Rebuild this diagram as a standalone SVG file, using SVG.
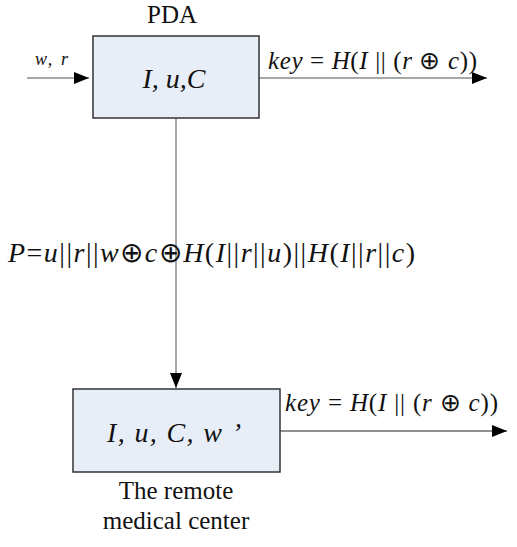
<svg xmlns="http://www.w3.org/2000/svg" width="517" height="547" viewBox="0 0 517 547">
<style>
.box{fill:#e8eef8;stroke:#333;stroke-width:1.5}
.ln{fill:none;stroke:#8a8a8a;stroke-width:1.5}
.dk{fill:none;stroke:#222;stroke-width:1.2}
.t{font-family:'Liberation Serif','Times New Roman',Times,serif;fill:#111}
.i{font-style:italic}
</style>
<defs>
<marker id="ah" markerUnits="userSpaceOnUse" markerWidth="16" markerHeight="12" refX="15" refY="6" orient="auto">
<path d="M0,0 L15,6 L0,12 Z" fill="#000"/>
</marker>
</defs>
<g id="connectors">
<line class="ln" x1="27" y1="78" x2="89" y2="78" marker-end="url(#ah)"/>
<line class="ln" x1="259" y1="78" x2="487" y2="78" marker-end="url(#ah)"/>
<line class="ln" x1="176" y1="118" x2="176" y2="388" marker-end="url(#ah)"/>
<line class="dk" x1="280" y1="431" x2="507" y2="431" marker-end="url(#ah)"/>
<text class="t i" x="35" y="65" font-size="18" textLength="33" lengthAdjust="spacing">w, r</text>
<text class="t" x="268" y="69" font-size="25" textLength="209" lengthAdjust="spacing"><tspan class="i">key</tspan> = <tspan class="i">H</tspan>(<tspan class="i">I</tspan> || (<tspan class="i">r</tspan> ⊕ <tspan class="i">c</tspan>))</text>
<text class="t" x="8" y="262" font-size="28" textLength="407" lengthAdjust="spacing"><tspan class="i">P</tspan>=<tspan class="i">u</tspan>||<tspan class="i">r</tspan>||<tspan class="i">w</tspan>⊕<tspan class="i">c</tspan>⊕<tspan class="i">H</tspan>(<tspan class="i">I</tspan>||<tspan class="i">r</tspan>||<tspan class="i">u</tspan>)||<tspan class="i">H</tspan>(<tspan class="i">I</tspan>||<tspan class="i">r</tspan>||<tspan class="i">c</tspan>)</text>
<text class="t" x="285" y="411" font-size="25" textLength="213" lengthAdjust="spacing"><tspan class="i">key</tspan> = <tspan class="i">H</tspan>(<tspan class="i">I</tspan> || (<tspan class="i">r</tspan> ⊕ <tspan class="i">c</tspan>))</text>
</g>
<g id="pda">
<text class="t" x="172" y="23" font-size="25" text-anchor="middle">PDA</text>
<rect class="box" x="93" y="36" width="166" height="82"/>
<text class="t i" x="174" y="88" font-size="28" text-anchor="middle">I, u,C</text>
</g>
<g id="center">
<rect class="box" x="73" y="389" width="207" height="83"/>
<text class="t i" x="107" y="442" font-size="28" textLength="134" lengthAdjust="spacing">I, u, C, w ’</text>
<text class="t" x="176" y="499" font-size="25" text-anchor="middle">The remote</text>
<text class="t" x="176" y="529" font-size="25" text-anchor="middle">medical center</text>
</g>
</svg>
